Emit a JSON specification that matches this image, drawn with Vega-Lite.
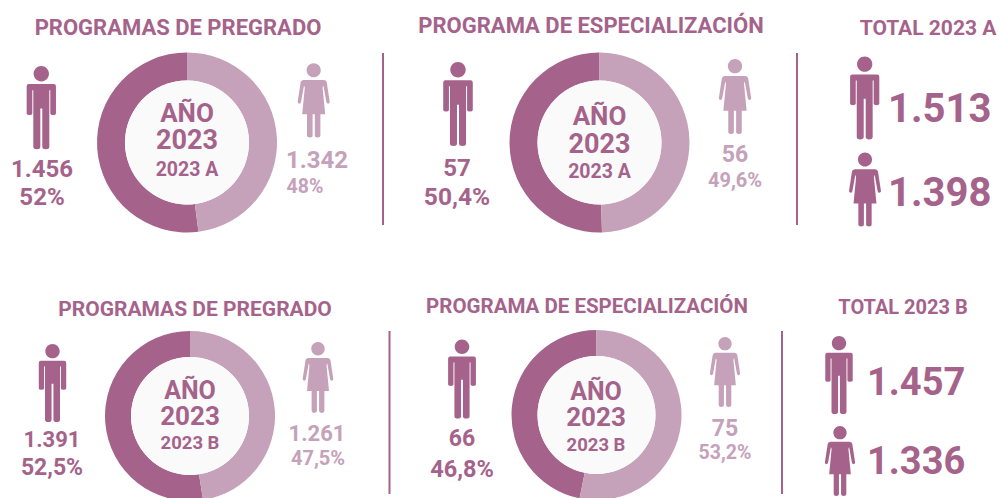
{"$schema":"https://vega.github.io/schema/vega-lite/v6.json","width":1000,"height":498,"padding":0,"autosize":{"type":"none"},"background":"#ffffff","config":{"view":{"stroke":null},"text":{"font":"Roboto","fontWeight":"bold"}},"resolve":{"scale":{"x":"independent","y":"independent","size":"independent"}},
"data":{"values":[
{"panel":1,"program":"PROGRAMAS DE PREGRADO","period":"2023 A","year":"2023","gender":"Hombre","count":1456,"label":"1.456","share":"52%"},
{"panel":1,"program":"PROGRAMAS DE PREGRADO","period":"2023 A","year":"2023","gender":"Mujer","count":1342,"label":"1.342","share":"48%"},
{"panel":2,"program":"PROGRAMA DE ESPECIALIZACIÓN","period":"2023 A","year":"2023","gender":"Hombre","count":57,"label":"57","share":"50,4%"},
{"panel":2,"program":"PROGRAMA DE ESPECIALIZACIÓN","period":"2023 A","year":"2023","gender":"Mujer","count":56,"label":"56","share":"49,6%"},
{"panel":3,"program":"PROGRAMAS DE PREGRADO","period":"2023 B","year":"2023","gender":"Hombre","count":1391,"label":"1.391","share":"52,5%"},
{"panel":3,"program":"PROGRAMAS DE PREGRADO","period":"2023 B","year":"2023","gender":"Mujer","count":1261,"label":"1.261","share":"47,5%"},
{"panel":4,"program":"PROGRAMA DE ESPECIALIZACIÓN","period":"2023 B","year":"2023","gender":"Hombre","count":66,"label":"66","share":"46,8%"},
{"panel":4,"program":"PROGRAMA DE ESPECIALIZACIÓN","period":"2023 B","year":"2023","gender":"Mujer","count":75,"label":"75","share":"53,2%"},
{"panel":5,"program":"TOTAL 2023 A","period":"2023 A","year":"2023","gender":"Hombre","count":1513,"label":"1.513"},
{"panel":5,"program":"TOTAL 2023 A","period":"2023 A","year":"2023","gender":"Mujer","count":1398,"label":"1.398"},
{"panel":6,"program":"TOTAL 2023 B","period":"2023 B","year":"2023","gender":"Hombre","count":1457,"label":"1.457"},
{"panel":6,"program":"TOTAL 2023 B","period":"2023 B","year":"2023","gender":"Mujer","count":1336,"label":"1.336"}
]},
"layer":[
{"transform":[{"filter":{"field":"panel","oneOf":[1,2]}},{"stack":"count","groupby":["panel"],"sort":[{"field":"gender","order":"descending"}],"offset":"normalize","as":["t0","t1"]}],"mark":{"type":"arc","outerRadius":90,"innerRadius":62},"encoding":{"x":{"field":"panel","type":"quantitative","axis":null,"scale":{"domain":[1,2],"range":[187,599.5]}},"y":{"field":"panel","type":"quantitative","axis":null,"scale":{"domain":[1,2],"range":[142.5,142.5]}},"theta":{"field":"t0","type":"quantitative","scale":{"domain":[0,1]}},"theta2":{"field":"t1"},"color":{"field":"gender","type":"nominal","legend":null,"scale":{"domain":["Hombre","Mujer"],"range":["#a5638b","#c5a1ba"]}}}},
{"transform":[{"filter":{"field":"panel","oneOf":[3,4]}},{"stack":"count","groupby":["panel"],"sort":[{"field":"gender","order":"descending"}],"offset":"normalize","as":["t0","t1"]}],"mark":{"type":"arc","outerRadius":85,"innerRadius":59},"encoding":{"x":{"field":"panel","type":"quantitative","axis":null,"scale":{"domain":[3,4],"range":[190,596.5]}},"y":{"field":"panel","type":"quantitative","axis":null,"scale":{"domain":[3,4],"range":[416,415]}},"theta":{"field":"t0","type":"quantitative","scale":{"domain":[0,1]}},"theta2":{"field":"t1"},"color":{"field":"gender","type":"nominal","legend":null,"scale":{"domain":["Hombre","Mujer"],"range":["#a5638b","#c5a1ba"]}}}},
{"transform":[{"filter":{"field":"panel","lte":4}},{"filter":{"field":"gender","equal":"Hombre"}}],"mark":{"type":"point","shape":"circle","filled":true,"fill":"#fafafa","opacity":1},"encoding":{"x":{"field":"panel","type":"quantitative","axis":null,"scale":{"domain":[1,2,3,4],"range":[187,599.5,190,596.5]}},"y":{"field":"panel","type":"quantitative","axis":null,"scale":{"domain":[1,2,3,4],"range":[142.5,142.5,416,415]}},"size":{"field":"panel","type":"quantitative","legend":null,"scale":{"domain":[1,2,3,4],"range":[15376,15376,13924,13924]}}}},
{"transform":[{"filter":{"field":"panel","oneOf":[2,4,5,6]}},{"filter":{"field":"gender","equal":"Hombre"}}],"mark":{"type":"point","shape":"M0,-1L0,1","filled":false,"stroke":"#a5638b","strokeWidth":2,"opacity":1},"encoding":{"x":{"field":"panel","type":"quantitative","axis":null,"scale":{"domain":[2,4,5,6],"range":[383,389.5,797,782]}},"y":{"field":"panel","type":"quantitative","axis":null,"scale":{"domain":[2,4,5,6],"range":[139,412.5,139,412.5]}},"size":{"field":"panel","type":"quantitative","legend":null,"scale":{"domain":[2,4,5,6],"range":[29584,26569,29584,26569]}}}},
{"transform":[{"filter":{"field":"gender","equal":"Hombre"}}],"mark":{"type":"point","filled":true,"fill":"#a5638b","opacity":1,"shape":"M0,-1A.184,.184 0 1 1 0,-.632A.184,.184 0 1 1 0,-1ZM-.3,-.568H.3Q.352,-.568 .352,-.51V.14Q.352,.176 .284,.176Q.216,.176 .216,.14V-.42H.192V.94Q.192,1 .108,1Q.024,1 .024,.94V.02H-.024V.94Q-.024,1 -.108,1Q-.192,1 -.192,.94V-.42H-.216V.14Q-.216,.176 -.284,.176Q-.352,.176 -.352,.14V-.51Q-.352,-.568 -.3,-.568Z"},"encoding":{"x":{"field":"panel","type":"quantitative","axis":null,"scale":{"domain":[1,2,3,4,5,6],"range":[41.3,458,52.5,462,864.7,839]}},"y":{"field":"panel","type":"quantitative","axis":null,"scale":{"domain":[1,2,3,4,5,6],"range":[107.7,104,383,379,98,375]}},"size":{"field":"panel","type":"quantitative","legend":null,"scale":{"domain":[1,2,3,4,5,6],"range":[6940,7056,6084,6241,6889,6084]}}}},
{"transform":[{"filter":{"field":"gender","equal":"Mujer"}}],"mark":{"type":"point","filled":true,"opacity":1,"shape":"M0,-1A.19,.19 0 1 1 0,-.62A.19,.19 0 1 1 0,-1ZM-.27,-.547H.27Q.33,-.547 .35,-.49L.43,.03Q.44,.08 .39,.09Q.35,.09 .34,.04L.26,-.4L.24,-.34L.31,.377H.18V.94Q.18,1 .105,1Q.03,1 .03,.94V.377H-.03V.94Q-.03,1 -.105,1Q-.18,1 -.18,.94V.377H-.31L-.24,-.34L-.26,-.4L-.34,.04Q-.35,.09 -.39,.09Q-.44,.08 -.43,.03L-.35,-.49Q-.33,-.547 -.27,-.547Z"},"encoding":{"x":{"field":"panel","type":"quantitative","axis":null,"scale":{"domain":[1,2,3,4,5,6],"range":[313.7,735,318,725,865,840]}},"y":{"field":"panel","type":"quantitative","axis":null,"scale":{"domain":[1,2,3,4,5,6],"range":[100.3,96.5,377.5,372,189.5,461]}},"size":{"field":"panel","type":"quantitative","legend":null,"scale":{"domain":[1,2,3,4,5,6],"range":[5520,5625,5041,4900,5476,4900]}},"fill":{"condition":{"test":"datum.panel <= 4","value":"#c5a1ba"},"value":"#a5638b"}}},
{"transform":[{"filter":{"field":"gender","equal":"Hombre"}}],"mark":{"type":"text","align":"center","baseline":"alphabetic","color":"#a5638b"},"encoding":{"text":{"field":"program"},"x":{"field":"panel","type":"quantitative","axis":null,"scale":{"domain":[1,2,3,4,5,6],"range":[178,591,195,587,928,903]}},"y":{"field":"panel","type":"quantitative","axis":null,"scale":{"domain":[1,2,3,4,5,6],"range":[35,33,316,313,35,314]}},"size":{"field":"panel","type":"quantitative","legend":null,"scale":{"domain":[1,2,3,4,5,6],"range":[22,22,21,20.5,21,20]}}}},
{"transform":[{"filter":{"field":"panel","lte":4}},{"filter":{"field":"gender","equal":"Hombre"}}],"mark":{"type":"text","align":"center","baseline":"alphabetic","color":"#a5638b"},"encoding":{"text":{"value":"AÑO"},"x":{"field":"panel","type":"quantitative","axis":null,"scale":{"domain":[1,2,3,4],"range":[187,599.5,190,596]}},"y":{"field":"panel","type":"quantitative","axis":null,"scale":{"domain":[1,2,3,4],"range":[122,125,399,400]}},"size":{"field":"panel","type":"quantitative","legend":null,"scale":{"domain":[1,2,3,4],"range":[26,26,25,25]}}}},
{"transform":[{"filter":{"field":"panel","lte":4}},{"filter":{"field":"gender","equal":"Hombre"}}],"mark":{"type":"text","align":"center","baseline":"alphabetic","color":"#a5638b"},"encoding":{"text":{"field":"year"},"x":{"field":"panel","type":"quantitative","axis":null,"scale":{"domain":[1,2,3,4],"range":[187,599.5,190,596]}},"y":{"field":"panel","type":"quantitative","axis":null,"scale":{"domain":[1,2,3,4],"range":[149,153,425,426]}},"size":{"field":"panel","type":"quantitative","legend":null,"scale":{"domain":[1,2,3,4],"range":[27,27,26,26]}}}},
{"transform":[{"filter":{"field":"panel","lte":4}},{"filter":{"field":"gender","equal":"Hombre"}}],"mark":{"type":"text","align":"center","baseline":"alphabetic","color":"#a5638b"},"encoding":{"text":{"field":"period"},"x":{"field":"panel","type":"quantitative","axis":null,"scale":{"domain":[1,2,3,4],"range":[187,599.5,190,596]}},"y":{"field":"panel","type":"quantitative","axis":null,"scale":{"domain":[1,2,3,4],"range":[176,178,449,451]}},"size":{"field":"panel","type":"quantitative","legend":null,"scale":{"domain":[1,2,3,4],"range":[19.5,19.5,18.5,18.5]}}}},
{"transform":[{"filter":{"field":"panel","lte":4}},{"filter":{"field":"gender","equal":"Hombre"}}],"mark":{"type":"text","align":"center","baseline":"alphabetic","color":"#a5638b"},"encoding":{"text":{"field":"label"},"x":{"field":"panel","type":"quantitative","axis":null,"scale":{"domain":[1,2,3,4],"range":[42,457,52,462]}},"y":{"field":"panel","type":"quantitative","axis":null,"scale":{"domain":[1,2,3,4],"range":[177,176,447,446]}},"size":{"field":"panel","type":"quantitative","legend":null,"scale":{"domain":[1,2,3,4],"range":[24,24,22,23]}}}},
{"transform":[{"filter":{"field":"panel","lte":4}},{"filter":{"field":"gender","equal":"Hombre"}}],"mark":{"type":"text","align":"center","baseline":"alphabetic","color":"#a5638b"},"encoding":{"text":{"field":"share"},"x":{"field":"panel","type":"quantitative","axis":null,"scale":{"domain":[1,2,3,4],"range":[42,457,52,462]}},"y":{"field":"panel","type":"quantitative","axis":null,"scale":{"domain":[1,2,3,4],"range":[205,205,475,477]}},"size":{"field":"panel","type":"quantitative","legend":null,"scale":{"domain":[1,2,3,4],"range":[24,24.5,23,23.5]}}}},
{"transform":[{"filter":{"field":"panel","lte":4}},{"filter":{"field":"gender","equal":"Mujer"}}],"mark":{"type":"text","align":"center","baseline":"alphabetic","color":"#c5a1ba"},"encoding":{"text":{"field":"label"},"x":{"field":"panel","type":"quantitative","axis":null,"scale":{"domain":[1,2,3,4],"range":[317,735,317,725]}},"y":{"field":"panel","type":"quantitative","axis":null,"scale":{"domain":[1,2,3,4],"range":[168,162,441,436]}},"size":{"field":"panel","type":"quantitative","legend":null,"scale":{"domain":[1,2,3,4],"range":[24,23,22,23]}}}},
{"transform":[{"filter":{"field":"panel","lte":4}},{"filter":{"field":"gender","equal":"Mujer"}}],"mark":{"type":"text","align":"center","baseline":"alphabetic","color":"#c5a1ba"},"encoding":{"text":{"field":"share"},"x":{"field":"panel","type":"quantitative","axis":null,"scale":{"domain":[1,2,3,4],"range":[305,735,318,725]}},"y":{"field":"panel","type":"quantitative","axis":null,"scale":{"domain":[1,2,3,4],"range":[193,187,465,459]}},"size":{"field":"panel","type":"quantitative","legend":null,"scale":{"domain":[1,2,3,4],"range":[19.5,20,20,19.5]}}}},
{"transform":[{"filter":{"field":"panel","gte":5}}],"mark":{"type":"text","align":"left","baseline":"alphabetic","color":"#a5638b"},"encoding":{"text":{"field":"label"},"x":{"field":"panel","type":"quantitative","axis":null,"scale":{"domain":[5,6],"range":[888,867]}},"y":{"field":"count","type":"quantitative","axis":null,"scale":{"domain":[1336,1398,1457,1513],"range":[474,206,395,122]}},"size":{"field":"panel","type":"quantitative","legend":null,"scale":{"domain":[5,6],"range":[40,38]}}}}
]}
